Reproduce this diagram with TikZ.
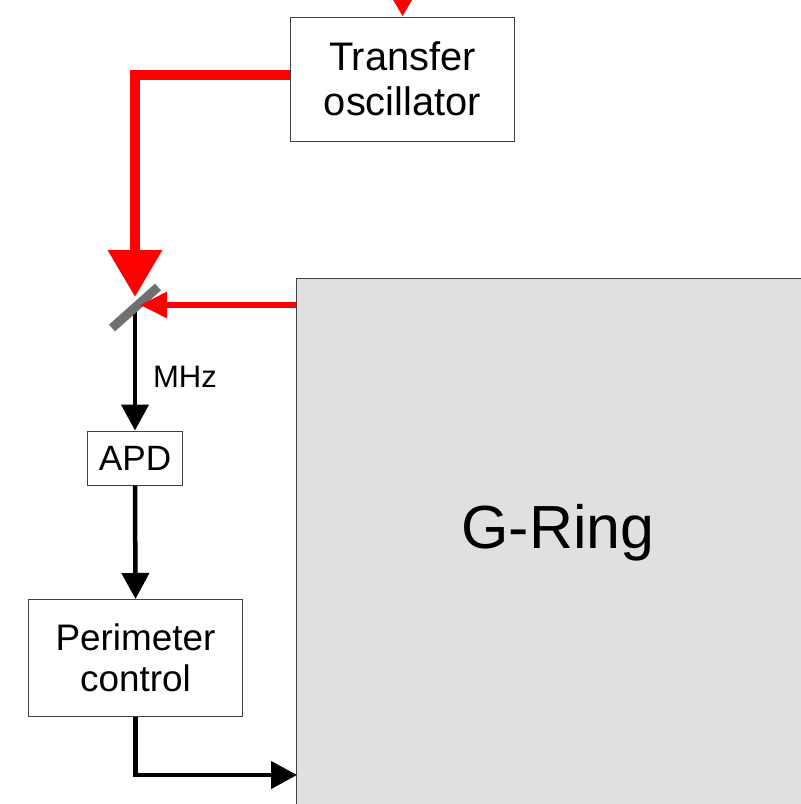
\documentclass[tikz,border=0pt]{standalone}
\usepackage{fontspec}
\setmainfont{Liberation Sans}
\usetikzlibrary{arrows.meta}

\begin{document}
\begin{tikzpicture}[x=0.03cm, y=-0.03cm,
    box/.style={draw=black!75, line width=0.03cm, fill=white, align=center, inner sep=0pt},
    laser/.style={draw=red, line width=0.3cm, -{Triangle[length=1.41cm, width=1.56cm]}},
    beam/.style={draw=red, line width=0.18cm, -{Triangle[length=0.81cm, width=0.75cm]}},
    signal/.style={draw=black, line width=0.135cm, -{Triangle[length=0.78cm, width=0.81cm]}}]
    \useasboundingbox (0,0) rectangle (800,804);

    % The ring (only its upper left part is seen)
    \node[box, fill=black!12, minimum width=15.99cm, minimum height=16.53cm] (ring) at (563.5,554.5) {};
    \node[font=\fontsize{52}{60}\selectfont] (ringlabel) at (558,533) {G-Ring};

    % Boxes
    \node[box, minimum width=6.69cm, minimum height=3.72cm, font=\fontsize{34}{38}\selectfont] (trans) at (402.5,79) {Transfer\\oscillator};
    \node[box, minimum width=2.82cm, minimum height=1.62cm, font=\fontsize{30}{34}\selectfont] (apd) at (135,458) {APD};
    \node[box, minimum width=6.42cm, minimum height=3.51cm, font=\fontsize{31.5}{35}\selectfont] (perim) at (135.5,658) {Perimeter\\control};

    % Beam splitter and free ends
    \coordinate (mirror) at (135,305);
    \coordinate (feed) at (403,-60);
    \coordinate (ringin) at (297,775);

    % Light from above into the oscillator
    \draw[laser] (feed) -- (trans.north);

    % Oscillator light down to the beam splitter
    \draw[laser, shorten >=0.24cm] ([yshift=0.12cm]trans.west) -| (mirror);

    % Beat signal to the APD and on
    \draw[signal] (mirror) -- (apd.north);
    \node[font=\fontsize{26.5}{30}\selectfont] (mhz) at (185,377) {MHz};
    \draw[signal] (apd.south) -- (perim.north);
    \draw[signal] (perim.south) |- (ringin);

    % Beam splitter
    \draw[draw=black!56, line width=0.27cm] (112,328) -- (158,287);

    % Light out of the ring
    \draw[beam, shorten >=0.15cm] (ring.west |- mirror) -- (mirror);
\end{tikzpicture}
\end{document}
